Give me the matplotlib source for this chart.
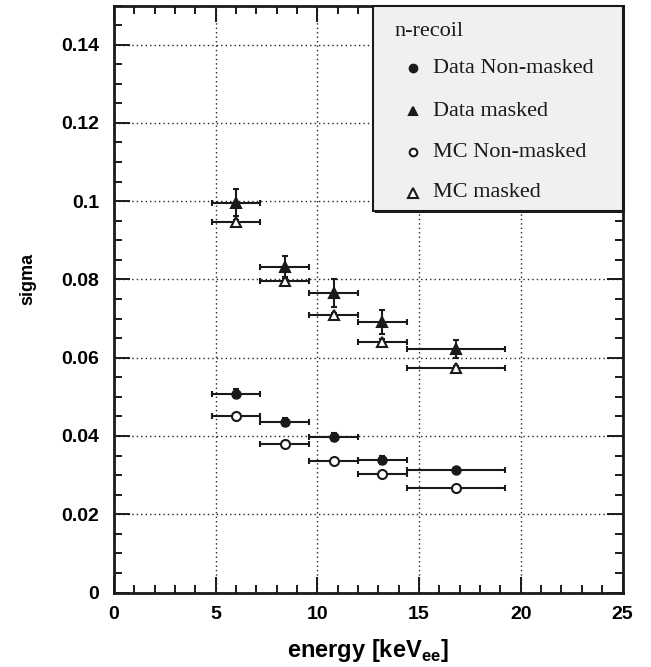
import numpy as np
import matplotlib.pyplot as plt
import matplotlib.transforms as mtransforms
from matplotlib.patches import Rectangle
from matplotlib.lines import Line2D
from matplotlib.ticker import MultipleLocator, FuncFormatter

plt.rcParams['font.family'] = ['Liberation Sans', 'DejaVu Sans']
plt.rcParams['mathtext.fontset'] = 'custom'
plt.rcParams['mathtext.bf'] = 'Liberation Sans:bold'
plt.rcParams['mathtext.rm'] = 'Liberation Sans:bold'

# energy bins [keV_ee]
energy = [6.0, 8.4, 10.8, 13.2, 16.8]
energy_err = [1.2, 1.2, 1.2, 1.2, 2.4]

data_nonmasked = [0.0508, 0.0435, 0.0397, 0.0339, 0.0312]
data_nonmasked_err = [0.0012, 0.0010, 0.0011, 0.0011, 0.0007]
data_masked = [0.0996, 0.0833, 0.0765, 0.0691, 0.0622]
data_masked_err = [0.0034, 0.0027, 0.0035, 0.0030, 0.0024]

mc_nonmasked = [0.0451, 0.0379, 0.0336, 0.0302, 0.0267]
mc_nonmasked_err = [0.0003, 0.0003, 0.0003, 0.0003, 0.0003]
mc_masked = [0.0946, 0.0797, 0.0709, 0.0641, 0.0573]
mc_masked_err = [0.0006, 0.0006, 0.0006, 0.0006, 0.0006]

legend_title = "n-recoil"
legend_labels = ["Data Non-masked", "Data masked", "MC Non-masked", "MC masked"]

ink = '#1a1a1a'

fig = plt.figure(figsize=(6.51, 6.67), dpi=100)
ax = fig.add_axes([114/651, 1 - 592.5/667, 508.5/651, 587/667])

ax.set_xlim(0, 25)
ax.set_ylim(0, 0.15)

ax.grid(True, which='major', linestyle=(0, (1, 2.2)), color='#222222', linewidth=1.0)
ax.set_axisbelow(True)

series = [
    (mc_masked, mc_masked_err, '^', 'white', 7.5),
    (mc_nonmasked, mc_nonmasked_err, 'o', 'white', 6.5),
    (data_masked, data_masked_err, '^', ink, 6.5),
    (data_nonmasked, data_nonmasked_err, 'o', ink, 6.0),
]
for y, yerr, m, fc, ms in series:
    ax.errorbar(energy, y, xerr=energy_err, yerr=yerr, fmt=m, mfc=fc, mec=ink,
                mew=1.5, ms=ms, color=ink, ecolor=ink, elinewidth=1.5,
                capsize=2.3, capthick=1.5, zorder=3)

# axes and ticks in the usual ROOT look
for s in ax.spines.values():
    s.set_linewidth(2.0)
    s.set_color(ink)
ax.xaxis.set_major_locator(MultipleLocator(5))
ax.xaxis.set_minor_locator(MultipleLocator(1))
ax.yaxis.set_major_locator(MultipleLocator(0.02))
ax.yaxis.set_minor_locator(MultipleLocator(0.005))
ax.yaxis.set_major_formatter(FuncFormatter(lambda v, p: '%g' % round(v, 4)))
ax.tick_params(which='both', direction='in', top=True, right=True, color=ink)
ax.tick_params(which='major', length=11.5, width=1.4)
ax.tick_params(which='minor', length=6, width=1.4)
ax.tick_params(axis='x', which='major', pad=10)
ax.tick_params(axis='y', which='major', pad=10.5)
for lab in ax.get_xticklabels() + ax.get_yticklabels():
    lab.set_fontsize(14)
    lab.set_fontweight('bold')

ax.set_xlabel(r'energy [keV$_{\mathbf{ee}}$]', fontsize=17, fontweight='bold')
ax.xaxis.set_label_coords(0.5, -0.076)
ax.set_ylabel('sigma', fontsize=13, fontweight='bold')
ax.yaxis.set_label_coords(-0.152, 0.535)

# key box with shadow
x0, y0, w, h = 0.509, 0.65, 0.491, 0.35
shadow_tr = mtransforms.offset_copy(ax.transAxes, fig=fig, x=2, y=-2, units='dots')
ax.add_patch(Rectangle((x0, y0), w, h, transform=shadow_tr, facecolor=ink,
                       edgecolor='none', zorder=5, clip_on=False))
ax.add_patch(Rectangle((x0, y0), w, h, transform=ax.transAxes, facecolor='#f0f0f0',
                       edgecolor=ink, linewidth=1.5, zorder=6, clip_on=False))

serif = ['Liberation Serif', 'DejaVu Serif']
ax.text(0.551, 0.955, legend_title, transform=ax.transAxes, fontsize=16,
        family=serif, va='center', ha='left', color=ink, zorder=7)
key_markers = [('o', ink, 5.5), ('^', ink, 5.5), ('o', 'white', 5.5), ('^', 'white', 6.5)]
key_y = [0.893, 0.820, 0.750, 0.681]
for (m, fc, ms), ky, lab in zip(key_markers, key_y, legend_labels):
    ax.add_line(Line2D([0.588], [ky], marker=m, ms=ms, mfc=fc, mec=ink, mew=1.5,
                       transform=ax.transAxes, zorder=7, clip_on=False))
    ax.text(0.627, ky, lab, transform=ax.transAxes, fontsize=16, family=serif,
            va='center', ha='left', color=ink, zorder=7)

fig.savefig('out.png', dpi=100)
